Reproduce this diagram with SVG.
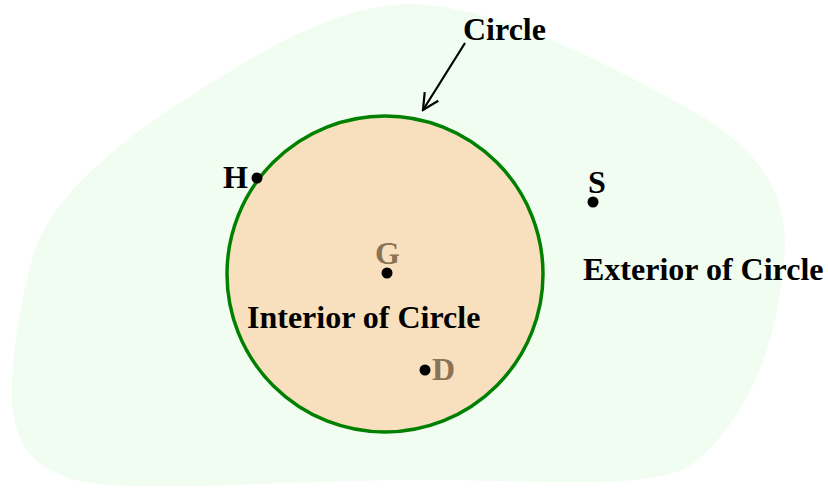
<svg xmlns="http://www.w3.org/2000/svg" width="828" height="488" viewBox="0 0 828 488">
<style>
.lbl{font-family:"Liberation Serif","Times New Roman",serif;font-weight:bold;font-size:32px;fill:#000}
.pt{font-family:"Liberation Serif","Times New Roman",serif;font-weight:bold;font-size:32px;fill:#8b7355}
.dot{fill:#000}
</style>
<defs>
<marker id="open" viewBox="0 0 20 20" refX="18" refY="10" markerWidth="20" markerHeight="20" markerUnits="userSpaceOnUse" orient="auto">
<path d="M2,2 L18,10 L2,18" fill="none" stroke="#000" stroke-width="2.2"/>
</marker>
</defs>
<rect width="828" height="488" fill="#fff"/>
<g id="exterior">
<path d="M37,244 C60,190 120,140 200,90 C270,45 340,5 410,4 C500,6 610,65 700,115 C765,155 790,200 784,260 C778,340 750,420 690,466 C650,490 550,480 414,480 C300,480 200,490 110,485 C30,480 12,440 12,394 C12,340 25,280 37,244 Z" fill="#f1fdf1"/>
</g>
<g id="circle">
<circle cx="385" cy="274" r="158" fill="#f8e0bf" stroke="#008000" stroke-width="3.5"/>
</g>
<g id="connectors">
<line x1="465" y1="43" x2="423" y2="110" stroke="#000" stroke-width="2.2" marker-end="url(#open)"/>
</g>
<g id="label-circle"><text class="lbl" x="463" y="40">Circle</text></g>
<g id="point-H"><circle class="dot" cx="257" cy="178" r="5.5"/><text class="lbl" x="248" y="188" text-anchor="end">H</text></g>
<g id="point-S"><circle class="dot" cx="593" cy="202" r="5.5"/><text class="lbl" x="588" y="193">S</text></g>
<g id="point-G"><circle class="dot" cx="387" cy="273" r="5.5"/><text class="pt" x="375" y="264">G</text></g>
<g id="point-D"><circle class="dot" cx="425" cy="370" r="5.5"/><text class="pt" x="432" y="380">D</text></g>
<g id="label-interior"><text class="lbl" x="247" y="328">Interior of Circle</text></g>
<g id="label-exterior"><text class="lbl" x="583" y="280">Exterior of Circle</text></g>
</svg>
